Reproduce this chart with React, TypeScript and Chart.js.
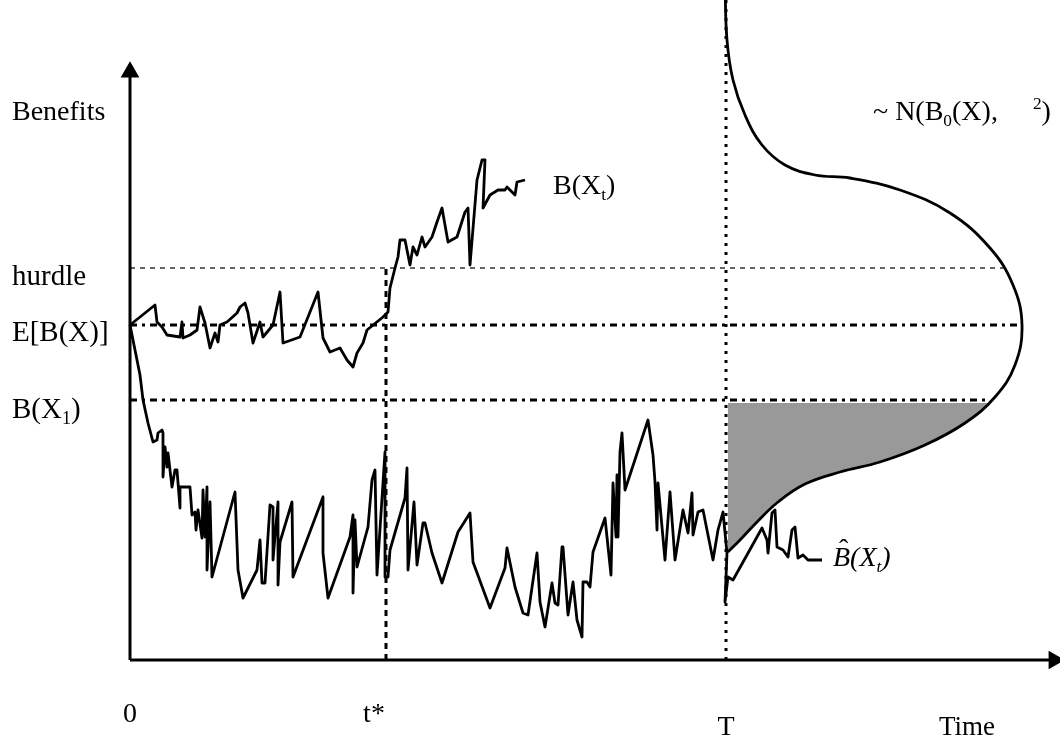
import { useEffect, useRef } from "react";
import { Chart, registerables } from "chart.js";

Chart.register(...registerables);

// ---- levels (benefit units) and times (time units) ----
const HURDLE = 392;
const EXPECTED = 335;
const B_X1 = 260;
const T_STAR = 256;
const T_END = 596;
const X_AXIS_END = 922;
const Y_AXIS_END = 586;
const TOP = 676;

// ---- text ----
const TXT_BENEFITS = "Benefits";
const TXT_HURDLE = "hurdle";
const TXT_EXPECTED = "E[B(X)]";
const TXT_ZERO = "0";
const TXT_TSTAR = "t*";
const TXT_T = "T";
const TXT_TIME = "Time";

// ---- paths [time, benefit] ----
const UPPER_PATH: [number, number][] = [
  [0, 335], [25, 355], [27, 338], [32, 333], [37, 325], [50, 323], [52, 338], [53, 322],
  [60, 325], [67, 330], [70, 353], [75, 337], [80, 312], [85, 327], [88, 318], [90, 335],
  [97, 338], [107, 347], [110, 353], [115, 357], [118, 347], [123, 317], [130, 338], [133, 323],
  [143, 335], [150, 368], [153, 317], [170, 323], [188, 368], [193, 322], [200, 308], [210, 312],
  [217, 300], [223, 293], [227, 307], [233, 317], [237, 330], [253, 343], [258, 348], [260, 372],
  [265, 392], [268, 403], [270, 420], [275, 420], [280, 395], [283, 413], [287, 405], [292, 423],
  [295, 413], [302, 423], [307, 438], [312, 452], [318, 418], [327, 423], [335, 448], [338, 452],
  [340, 395], [347, 480], [352, 500], [355, 500], [353, 452], [360, 465], [368, 470], [375, 470],
  [377, 473], [385, 465], [387, 478], [395, 480],
];

const LOWER_PATH: [number, number][] = [
  [0, 335], [5, 310], [10, 285], [13, 260], [18, 237], [23, 218], [27, 220], [28, 227],
  [32, 230], [33, 227], [33, 183], [35, 213], [37, 193], [38, 207], [42, 173], [45, 190],
  [47, 190], [50, 152], [50, 173], [60, 173], [62, 145], [65, 148], [66, 130], [68, 150],
  [72, 122], [73, 170], [75, 123], [77, 173], [77, 90], [80, 158], [82, 83], [105, 168],
  [108, 90], [113, 62], [127, 90], [130, 120], [132, 77], [135, 77], [140, 155], [143, 153],
  [143, 100], [148, 158], [148, 75], [150, 118], [162, 158], [163, 83], [193, 163], [193, 107],
  [198, 62], [220, 123], [223, 145], [223, 67], [225, 140], [227, 93], [238, 133], [242, 180],
  [245, 190], [247, 85], [255, 208], [255, 83], [258, 83], [260, 110], [275, 162], [277, 192],
  [278, 90], [284, 158], [287, 95], [293, 137], [295, 137], [302, 107], [312, 77], [328, 128],
  [340, 147], [343, 98], [360, 52], [375, 92], [377, 112], [385, 73], [393, 47], [398, 45],
  [407, 107], [410, 58], [415, 33], [422, 77], [425, 57], [428, 55], [432, 113], [433, 113],
  [438, 45], [443, 78], [447, 40], [452, 23], [453, 78], [457, 78], [460, 73], [463, 108],
  [475, 142], [481, 85], [483, 177], [486, 123], [487, 185], [488, 123], [490, 208], [492, 227],
  [495, 170], [518, 240], [523, 205], [525, 178], [527, 130], [528, 177], [535, 100], [540, 168],
  [545, 100], [553, 150], [558, 127], [562, 167], [563, 125], [568, 148], [573, 150], [583, 100],
  [588, 130], [593, 148], [597, 107], [595, 58], [598, 83], [603, 80], [632, 132], [637, 120],
  [638, 107], [642, 147], [645, 150], [647, 113], [653, 110], [658, 103], [662, 130], [665, 133],
  [668, 102], [673, 105], [678, 100], [692, 100],
];

// sideways density of B at T
const DENSITY_CURVE: [number, number][] = [
  [595, 676], [597, 620], [603, 580], [615, 545], [632, 515], [655, 495], [685, 485], [720, 482],
  [770, 470], [820, 447], [860, 412], [883, 375], [892, 335], [885, 295], [865, 263], [835, 237],
  [795, 215], [750, 198], [710, 188], [675, 176], [648, 158], [627, 138], [610, 120], [598, 108],
];

// lower tail below B(X1)
const SHADED_TAIL: [number, number][] = [
  [598, 108], [610, 120], [627, 138], [648, 158], [675, 176], [710, 188], [750, 198], [795, 215],
  [835, 237], [858, 257],
];

const SERIF = "'Liberation Serif', 'Times New Roman', serif";
const xy = (pts: [number, number][]) => pts.map(([x, y]) => ({ x, y }));

type Run = { t: string; k?: "sub" | "sup" };

function drawRuns(ctx: CanvasRenderingContext2D, runs: Run[], x: number, y: number, size: number, align: "left" | "center" = "left", italic = false) {
  const f = (s: number) => `${italic ? "italic " : ""}${s}px ${SERIF}`;
  const widths = runs.map((r) => {
    ctx.font = f(r.k ? size * 0.62 : size);
    return ctx.measureText(r.t).width;
  });
  const total = widths.reduce((a, b) => a + b, 0);
  let cx = align === "center" ? x - total / 2 : x;
  ctx.textAlign = "left";
  runs.forEach((r, i) => {
    ctx.font = f(r.k ? size * 0.62 : size);
    const dy = r.k === "sub" ? size * 0.2 : r.k === "sup" ? -size * 0.4 : 0;
    ctx.fillText(r.t, cx, y + dy);
    cx += widths[i];
  });
  return cx;
}

const labelPlugin = {
  id: "diagramLabels",
  afterDatasetsDraw(chart: any) {
    const ctx: CanvasRenderingContext2D = chart.ctx;
    const X = (v: number) => chart.scales.x.getPixelForValue(v);
    const Y = (v: number) => chart.scales.y.getPixelForValue(v);
    ctx.save();
    ctx.fillStyle = "#000";
    ctx.textBaseline = "alphabetic";
    const left = X(0) - 118;
    const fs = 28;
    drawRuns(ctx, [{ t: TXT_BENEFITS }], left, Y(Y_AXIS_END) + 46, fs);
    drawRuns(ctx, [{ t: TXT_HURDLE }], left, Y(HURDLE) + 17, 29);
    drawRuns(ctx, [{ t: TXT_EXPECTED }], left, Y(EXPECTED) + 16, 29);
    drawRuns(ctx, [{ t: "B(X" }, { t: "1", k: "sub" }, { t: ")" }], left, Y(B_X1) + 18, 29);
    drawRuns(ctx, [{ t: TXT_ZERO }], X(0), Y(0) + 62, fs, "center");
    drawRuns(ctx, [{ t: TXT_TSTAR }], X(T_STAR) - 12, Y(0) + 62, fs, "center");
    drawRuns(ctx, [{ t: TXT_T }], X(T_END), Y(0) + 75, fs, "center");
    drawRuns(ctx, [{ t: TXT_TIME }], X(T_END) + 241, Y(0) + 75, 27, "center");

    const up = UPPER_PATH[UPPER_PATH.length - 1];
    drawRuns(ctx, [{ t: "B(X" }, { t: "t", k: "sub" }, { t: ")" }], X(up[0]) + 28, Y(up[1]) + 14, 28);

    const lo = LOWER_PATH[LOWER_PATH.length - 1];
    const bx = X(lo[0]) + 11;
    const by = Y(lo[1]) + 6;
    const bSize = 28;
    drawRuns(ctx, [{ t: "B(X" }, { t: "t", k: "sub" }, { t: ")" }], bx, by, bSize, "left", true);
    ctx.font = `italic ${bSize}px ${SERIF}`;
    const wB = ctx.measureText("B").width;
    ctx.font = `${bSize}px ${SERIF}`;
    ctx.textAlign = "center";
    ctx.fillText("\u02C6", bx + wB * 0.62, by - bSize * 0.3);

    drawRuns(
      ctx,
      [{ t: "~ N(B" }, { t: "0", k: "sub" }, { t: "(X),     " }, { t: "2", k: "sup" }, { t: ")" }],
      X(T_END) + 147,
      Y(Y_AXIS_END) + 46,
      28
    );
    ctx.restore();
  },
};

export default function App() {
  const ref = useRef<HTMLCanvasElement>(null);
  useEffect(() => {
    const canvas = ref.current!;
    const line = (data: any[], extra: any = {}) => ({
      data,
      borderColor: "#000",
      backgroundColor: "#000",
      borderWidth: 2.8,
      pointRadius: 0,
      pointHoverRadius: 0,
      tension: 0,
      fill: false,
      borderJoinStyle: "round",
      borderCapStyle: "butt",
      ...extra,
    });
    const chart = new Chart(canvas, {
      type: "line",
      data: {
        datasets: [
          line(xy(UPPER_PATH)),
          line(xy(LOWER_PATH)),
          line(xy(DENSITY_CURVE), { tension: 0.4 }),
          line([{ x: 0, y: 0 }, { x: 0, y: Y_AXIS_END }], { borderWidth: 3 }),
          line([{ x: 0, y: 0 }, { x: X_AXIS_END, y: 0 }], { borderWidth: 3 }),
          line([{ x: 0, y: Y_AXIS_END + 2 }], { showLine: false, pointRadius: 8, pointStyle: "triangle", pointRotation: 0, pointBackgroundColor: "#000", pointBorderColor: "#000" }),
          line([{ x: X_AXIS_END + 2, y: 0 }], { showLine: false, pointRadius: 8, pointStyle: "triangle", pointRotation: 90, pointBackgroundColor: "#000", pointBorderColor: "#000" }),
          line([{ x: 0, y: HURDLE }, { x: 875, y: HURDLE }], { borderWidth: 1.2, borderDash: [5, 5] }),
          line([{ x: 0, y: EXPECTED }, { x: 892, y: EXPECTED }], { borderWidth: 3, borderDash: [7, 5, 3, 5] }),
          line([{ x: 0, y: B_X1 }, { x: 860, y: B_X1 }], { borderWidth: 3, borderDash: [7, 5, 3, 5] }),
          line([{ x: T_STAR, y: 0 }, { x: T_STAR, y: HURDLE }], { borderWidth: 3, borderDash: [6, 5] }),
          line([{ x: T_END, y: 0 }, { x: T_END, y: TOP }], { borderWidth: 3, borderDash: [3, 6] }),
          line(xy(SHADED_TAIL), { tension: 0.4, borderWidth: 0, borderColor: "rgba(0,0,0,0)", backgroundColor: "#999999", fill: { value: B_X1 - 3 } }),
        ],
      },
      options: {
        animation: false,
        responsive: false,
        events: [],
        layout: { padding: 0, autoPadding: false },
        plugins: { legend: { display: false }, tooltip: { enabled: false }, title: { display: false } },
        scales: {
          x: { type: "linear", min: -130, max: 930, display: false },
          y: { type: "linear", min: -76, max: 660, display: false },
        },
      },
      plugins: [labelPlugin],
    } as any);
    return () => chart.destroy();
  }, []);
  return (
    <div style={{ position: "fixed", left: 0, top: 0, width: 1060, height: 736, background: "#fff" }}>
      <canvas ref={ref} width={1060} height={736} style={{ display: "block", width: 1060, height: 736 }} />
    </div>
  );
}
